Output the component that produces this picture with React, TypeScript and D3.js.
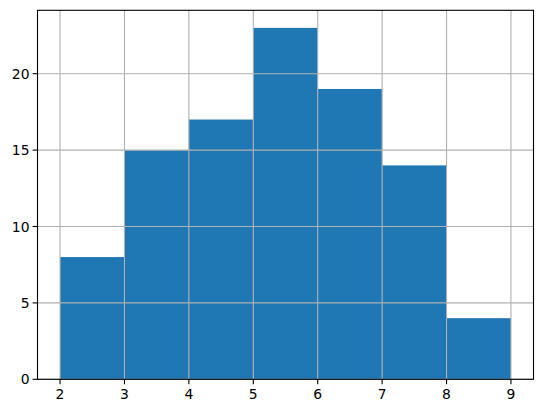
import React from "react";
import * as d3 from "d3";

const binEdges = [2, 3, 4, 5, 6, 7, 8, 9];
const counts = [8, 15, 17, 23, 19, 14, 4];
const xTicks = [2, 3, 4, 5, 6, 7, 8, 9];
const yTicks = [0, 5, 10, 15, 20];

export default function App() {
  const W = 543, H = 413;
  const left = 37.5, right = 533.5, top = 10.3, bottom = 379.3;
  const x = d3.scaleLinear().domain([1.65, 9.35]).range([left, right]);
  const y = d3.scaleLinear().domain([0, 24.15]).range([bottom, top]);
  const font = "DejaVu Sans, sans-serif";
  const fs = 13.9;
  return (
    <svg width={W} height={H} style={{ position: "absolute", left: 0, top: 0 }}>
      <rect x={0} y={0} width={W} height={H} fill="#fff" />
      {counts.map((c, i) => (
        <rect key={i} x={x(binEdges[i])} y={y(c)} width={x(binEdges[i + 1]) - x(binEdges[i])} height={y(0) - y(c)} fill="#1f77b4" />
      ))}
      {xTicks.map((t) => (
        <line key={"gx" + t} x1={x(t)} x2={x(t)} y1={top} y2={bottom} stroke="#b0b0b0" strokeWidth={1.1} />
      ))}
      {yTicks.map((t) => (
        <line key={"gy" + t} x1={left} x2={right} y1={y(t)} y2={y(t)} stroke="#b0b0b0" strokeWidth={1.1} />
      ))}
      <rect x={left} y={top} width={right - left} height={bottom - top} fill="none" stroke="#000" strokeWidth={1.1} />
      {xTicks.map((t) => (
        <g key={"tx" + t}>
          <line x1={x(t)} x2={x(t)} y1={bottom} y2={bottom + 4.9} stroke="#000" strokeWidth={1.1} />
          <text x={x(t)} y={bottom + 20} textAnchor="middle" fontFamily={font} fontSize={fs}>{t}</text>
        </g>
      ))}
      {yTicks.map((t) => (
        <g key={"ty" + t}>
          <line x1={left - 4.9} x2={left} y1={y(t)} y2={y(t)} stroke="#000" strokeWidth={1.1} />
          <text x={left - 8} y={y(t)} dy="0.36em" textAnchor="end" fontFamily={font} fontSize={fs}>{t}</text>
        </g>
      ))}
    </svg>
  );
}
